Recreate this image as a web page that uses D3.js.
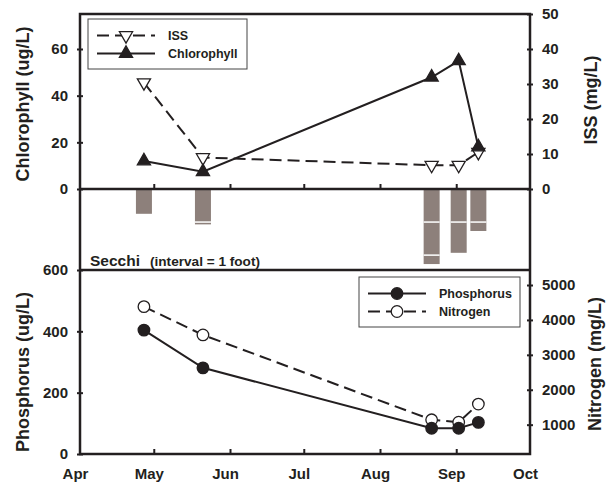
<!DOCTYPE html>
<html>
<head>
<meta charset="utf-8">
<script src="https://cdn.jsdelivr.net/npm/d3@7"></script>
<style>
  body { margin: 0; background: #fff; }
  text { font-family: "Liberation Sans", Arial, sans-serif; font-weight: bold; fill: #231f20; }
  .axis path { display: none; }
  .axis line { stroke: #231f20; stroke-width: 2; }
  .axis text { font-size: 15px; }
</style>
</head>
<body>
<svg width="613" height="485"></svg>
<script>
// sampling dates and measured values
var dates = ["2001-04-27", "2001-05-21", "2001-08-22", "2001-09-02", "2001-09-10"];
var chlorophyll = [12, 7.4, 47.9, 54.9, 18];
var iss = [30.4, 9, 6.8, 6.8, 10.5];
var secchi = [0.75, 1.07, 2.27, 1.93, 1.27];   // feet
var phosphorus = [404, 281, 84, 84, 103];
var nitrogen = [4380, 3570, 1140, 1070, 1590];

var monthTicks = ["2001-04-01", "2001-05-01", "2001-06-01", "2001-07-01", "2001-08-01", "2001-09-01", "2001-10-01"];
var chlTicks = [0, 20, 40, 60];
var issTicks = [0, 10, 20, 30, 40, 50];
var phTicks = [0, 200, 400, 600];
var nTicks = [1000, 2000, 3000, 4000, 5000];

var parse = d3.timeParse("%Y-%m-%d");
var data = dates.map(function(d, i) {
  return {date: parse(d), chl: chlorophyll[i], iss: iss[i], sec: secchi[i], p: phosphorus[i], n: nitrogen[i]};
});
var months = monthTicks.map(parse);

var svg = d3.select("svg"),
    left = 80, right = 530,
    top1 = 14, bot1 = 189, bot2 = 270, bot3 = 454,
    ink = "#231f20";

var x = d3.scaleTime().domain([months[0], months[months.length - 1]]).range([left, right]);
var yChl = d3.scaleLinear().domain([0, 75]).range([bot1, top1]);
var yIss = d3.scaleLinear().domain([0, 50]).range([bot1, top1]);
var ySec = d3.scaleLinear().domain([0, 2.45]).range([bot1, bot2]);
var yP = d3.scaleLinear().domain([0, 600]).range([bot3, bot2]);
var yN = d3.scaleLinear().domain([160, 5430]).range([bot3, bot2]);

// crossing ticks on the y axes
function yAxis(gen, xpos, scale, vals) {
  var g = svg.append("g").attr("class", "axis")
      .attr("transform", "translate(" + xpos + ",0)")
      .call(gen(scale).tickValues(vals).tickSize(3).tickPadding(9).tickFormat(d3.format("d")));
  if (gen === d3.axisLeft) g.selectAll(".tick line").attr("x1", 3);
  else g.selectAll(".tick line").attr("x1", -3);
  return g;
}
yAxis(d3.axisLeft, left, yChl, chlTicks);
yAxis(d3.axisRight, right, yIss, issTicks);
yAxis(d3.axisLeft, left, yP, phTicks);
yAxis(d3.axisRight, right, yN, nTicks);

// inward month ticks on the top and bottom panels
[bot1, bot3].forEach(function(yy) {
  svg.append("g").attr("class", "axis")
      .attr("transform", "translate(0," + yy + ")")
      .call(d3.axisBottom(x).tickValues(months.slice(1, -1)).tickSize(-5).tickFormat(""));
});
var mAxis = svg.append("g").attr("class", "axis")
    .attr("transform", "translate(0," + bot3 + ")")
    .call(d3.axisBottom(x).tickValues(months).tickSize(0).tickPadding(14).tickFormat(d3.timeFormat("%b")));
mAxis.selectAll("text").attr("dx", -5);

// secchi bars with a white line at every foot
var bars = svg.append("g");
data.forEach(function(d) {
  bars.append("rect")
      .attr("x", x(d.date) - 8).attr("width", 16)
      .attr("y", ySec(0)).attr("height", ySec(d.sec) - ySec(0))
      .attr("fill", "#8d807b");
  d3.range(1, Math.floor(d.sec) + 1).forEach(function(f) {
    bars.append("line")
        .attr("x1", x(d.date) - 8).attr("x2", x(d.date) + 8)
        .attr("y1", ySec(f)).attr("y2", ySec(f))
        .attr("stroke", "#fff").attr("stroke-width", 1.5);
  });
});

// frame
svg.append("rect").attr("x", left).attr("y", top1).attr("width", right - left).attr("height", bot3 - top1)
    .attr("fill", "none").attr("stroke", ink).attr("stroke-width", 2.5);
[bot1, bot2].forEach(function(yy) {
  svg.append("line").attr("x1", left).attr("x2", right).attr("y1", yy).attr("y2", yy)
      .attr("stroke", ink).attr("stroke-width", 2.5);
});

var triUp = d3.symbol().type(d3.symbolTriangle).size(75);
var circ = d3.symbol().type(d3.symbolCircle).size(105);

function series(key, yScale, dash, sym, fill, rotate) {
  var line = d3.line().x(function(d) { return x(d.date); }).y(function(d) { return yScale(d[key]); });
  svg.append("path").datum(data).attr("d", line)
      .attr("fill", "none").attr("stroke", ink).attr("stroke-width", 2)
      .attr("stroke-dasharray", dash);
  svg.selectAll(null).data(data).enter().append("path")
      .attr("d", sym)
      .attr("transform", function(d) { return "translate(" + x(d.date) + "," + yScale(d[key]) + ")" + (rotate ? " rotate(180)" : ""); })
      .attr("fill", fill).attr("stroke", ink).attr("stroke-width", 1.3);
}
series("iss", yIss, "12,6", triUp, "#fff", true);
series("chl", yChl, null, triUp, ink, false);
series("n", yN, "12,6", circ, "#fff", false);
series("p", yP, null, circ, ink, false);

// legends
function legend(bx, by, bw, bh, items) {
  svg.append("rect").attr("x", bx).attr("y", by).attr("width", bw).attr("height", bh)
      .attr("fill", "#fff").attr("stroke", "#444").attr("stroke-width", 1);
  items.forEach(function(it, i) {
    var yy = by + 16.5 + i * 18;
    svg.append("line").attr("x1", bx + 9).attr("x2", bx + 67).attr("y1", yy).attr("y2", yy)
        .attr("stroke", ink).attr("stroke-width", 2).attr("stroke-dasharray", it.dash);
    svg.append("path").attr("d", it.sym)
        .attr("transform", "translate(" + (bx + 38) + "," + yy + ")" + (it.rotate ? " rotate(180)" : ""))
        .attr("fill", it.fill).attr("stroke", ink).attr("stroke-width", 1.3);
    svg.append("text").attr("x", bx + 80).attr("y", yy + 4.5).style("font-size", "12.5px").text(it.name);
  });
}
legend(88, 19, 159, 50, [
  {name: "ISS", dash: "12,6", sym: triUp, fill: "#fff", rotate: true},
  {name: "Chlorophyll", dash: null, sym: triUp, fill: ink, rotate: false}
]);
legend(359, 277, 161, 50, [
  {name: "Phosphorus", dash: null, sym: circ, fill: ink},
  {name: "Nitrogen", dash: "12,6", sym: circ, fill: "#fff"}
]);

// axis titles
function title(tx, ty, txt) {
  svg.append("text").attr("transform", "translate(" + tx + "," + ty + ") rotate(-90)")
      .attr("text-anchor", "middle").style("font-size", "18px").text(txt);
}
title(29, 104, "Chlorophyll (ug/L)");
title(597, 100, "ISS (mg/L)");
title(29, 372, "Phosphorus (ug/L)");
title(601, 364, "Nitrogen (mg/L)");

svg.append("text").attr("x", 90).attr("y", 265.5).style("font-size", "15.5px").text("Secchi");
svg.append("text").attr("x", 150).attr("y", 265.5).style("font-size", "12.5px")
    .attr("textLength", 110).attr("lengthAdjust", "spacingAndGlyphs").text("(interval = 1 foot)");
</script>
</body>
</html>
